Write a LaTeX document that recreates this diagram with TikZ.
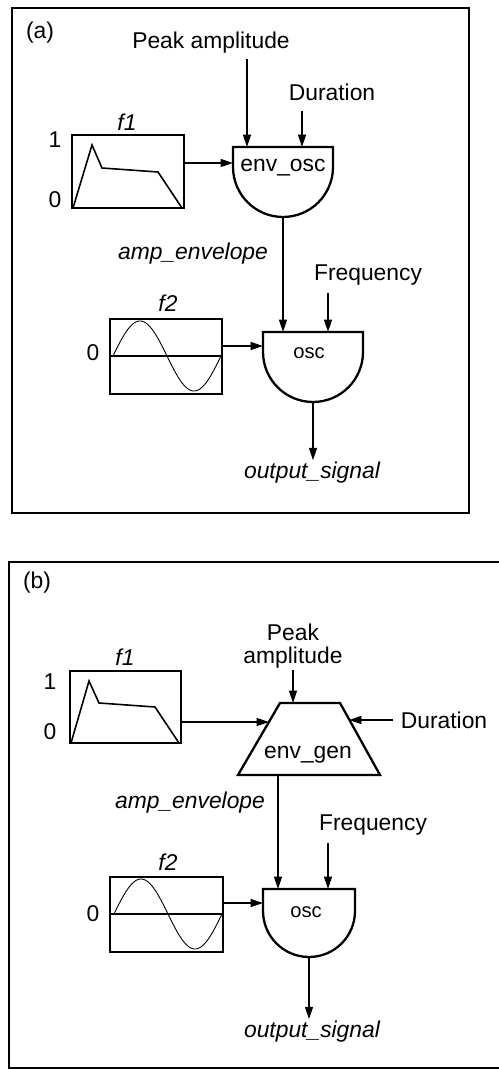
\documentclass[tikz,border=0pt]{standalone}
\usepackage{fontspec}
\setmainfont{Liberation Sans}
\usetikzlibrary{arrows.meta}
\tikzset{
    txt/.style={font=\fontsize{13}{11}\selectfont, inner sep=1pt},
    itl/.style={font=\fontsize{13}{11}\selectfont\itshape, inner sep=1pt},
    small/.style={font=\fontsize{11.5}{11}\selectfont, inner sep=1pt},
    arr/.style={-{Triangle[length=7pt,width=4.5pt]}, line width=0.8pt},
    unit/.style={line width=1.3pt},
    frame/.style={line width=0.9pt},
}
\begin{document}
\begin{tikzpicture}[x=0.02cm, y=-0.02cm]
    \useasboundingbox (0,0) rectangle (499,1070);
    % ---------- (a) ----------
    \draw[frame] (12,8) rectangle (469,513);
    \node[txt] (capA) at (40,33) {(a)};
    % tables
    \draw[unit] (72,135) rectangle (184,208);
    \draw[line width=0.9pt] (73,208) -- (92,145) -- (102,168) -- (158,172) -- (182,208);
    \draw[unit] (110,319) rectangle (222,394);
    \draw[line width=0.8pt] (110,356) -- (222,356);
    \draw[line width=0.5pt] plot[domain=0:1, samples=80, smooth] ({113+108*\x},{356-35*sin(360*\x)});
    \node[itl] (nfA1) at (127,122) {f1};
    \node[itl] (nfA2) at (168,303) {f2};
    \node[txt] (oneA) at (55,140) {1};
    \node[txt] (zeroA1) at (55,200) {0};
    \node[txt] (zeroA2) at (93,353) {0};
    % units
    \draw[unit] (233,147) -- (333,147) -- (333,167) arc[start angle=0, end angle=-180, radius=1cm] -- cycle;
    \draw[unit] (263,332) -- (363,332) -- (363,352) arc[start angle=0, end angle=-180, radius=1cm] -- cycle;
    \node[txt] (envA) at (283,168) {env\_osc};
    \node[small] (oscA) at (309,353) {osc};
    \foreach \n/\x/\y in {fA1-e/184/163, envA-in1/247/147, envA-in2/302/147, envA-w/233/163,
        envA-s/283/217, oscA-in1/283/332, oscA-in2/328/332, fA2-e/222/346, oscA-w/263/346, oscA-s/313/402} {
        \coordinate (\n) at (\x,\y);
    }
    % labels
    \node[txt] (pkA) at (211,43) {Peak amplitude};
    \node[txt] (durA) at (332,92) {Duration};
    \node[txt] (frqA) at (368,275) {Frequency};
    \node[itl] (ampA) at (193,254) {amp\_envelope};
    \node[itl] (outA) at (312,473) {output\_signal};
    % connectors
    \draw[arr, shorten <=2pt] (pkA.south -| envA-in1) -- (envA-in1);
    \draw[arr, shorten <=5pt] (durA.south -| envA-in2) -- (envA-in2);
    \draw[arr] (fA1-e) -- (envA-w);
    \draw[arr] (envA-s) -- (oscA-in1);
    \draw[arr, shorten <=3pt] (frqA.south -| oscA-in2) -- (oscA-in2);
    \draw[arr] (fA2-e) -- (oscA-w);
    \draw[arr] (oscA-s) -- (outA.north -| oscA-s);

    % ---------- (b) ----------
    \draw[frame] (9,562) rectangle (510,1068);
    \node[txt] (capB) at (37,583) {(b)};
    % tables
    \draw[unit] (70,671) rectangle (181,743);
    \draw[line width=0.9pt] (71,743) -- (89,681) -- (99,703) -- (155,707) -- (179,743);
    \draw[unit] (110,877) rectangle (223,952);
    \draw[line width=0.8pt] (110,914) -- (223,914);
    \draw[line width=0.5pt] plot[domain=0:1, samples=80, smooth] ({114+108*\x},{914-35*sin(360*\x)});
    \node[itl] (nfB1) at (125,657) {f1};
    \node[itl] (nfB2) at (168,862) {f2};
    \node[txt] (oneB) at (50,682) {1};
    \node[txt] (zeroB1) at (50,732) {0};
    \node[txt] (zeroB2) at (93,914) {0};
    % units
    \draw[unit] (280,703) -- (340,703) -- (380,775) -- (238,775) -- cycle;
    \draw[unit] (263,889) -- (355,889) -- (355,911) arc[start angle=0, end angle=-180, radius=0.92cm] -- cycle;
    \node[txt] (envB) at (308,755) {env\_gen};
    \node[small] (oscB) at (306,912) {osc};
    \foreach \n/\x/\y in {fB1-e/181/722, envB-in/293/703, envB-w/269/722, envB-e/349/720,
        envB-s/278/775, oscB-in1/278/889, oscB-in2/328/889, fB2-e/223/903, oscB-w/263/903, oscB-s/309/957} {
        \coordinate (\n) at (\x,\y);
    }
    % labels
    \node[txt, font=\fontsize{13}{13}\selectfont, align=center] (pkB) at (293,646) {Peak\\amplitude};
    \node[txt] (durB) at (444,720) {Duration};
    \node[txt] (frqB) at (373,825) {Frequency};
    \node[itl] (ampB) at (190,803) {amp\_envelope};
    \node[itl] (outB) at (312,1032) {output\_signal};
    % connectors
    \draw[arr] (pkB.south -| envB-in) -- (envB-in);
    \draw[arr, shorten <=3pt] (durB.west |- envB-e) -- (envB-e);
    \draw[arr] (fB1-e) -- (envB-w);
    \draw[arr] (envB-s) -- (oscB-in1);
    \draw[arr, shorten <=3pt] (frqB.south -| oscB-in2) -- (oscB-in2);
    \draw[arr] (fB2-e) -- (oscB-w);
    \draw[arr] (oscB-s) -- (outB.north -| oscB-s);
\end{tikzpicture}
\end{document}
